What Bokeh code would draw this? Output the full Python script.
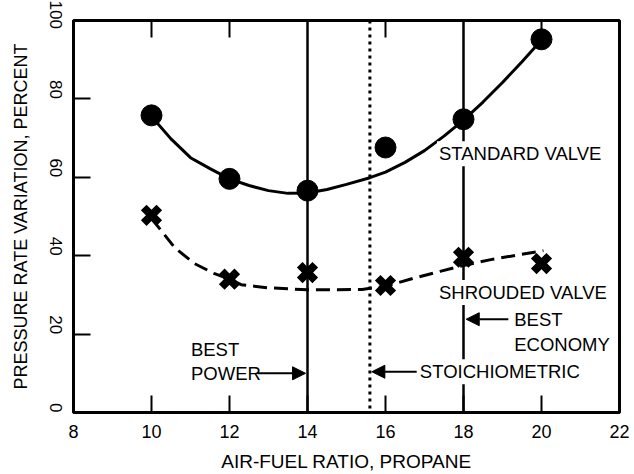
import math
from bokeh.plotting import figure
from bokeh.models import FixedTicker, Span, Label, Arrow, NormalHead, Range1d
from bokeh.embed import file_html
from bokeh.resources import INLINE

# ---- data ----
x_ticks = [8, 10, 12, 14, 16, 18, 20, 22]
y_ticks = [0, 20, 40, 60, 80, 100]
top_tick_marks = [10, 12, 16, 20]      # inward tick marks on the top edge

std_x = [10, 12, 14, 16, 18, 20]
std_y = [75.8, 59.6, 56.6, 67.6, 74.8, 95.2]

shr_x = [10, 12, 14, 16, 18, 20]
shr_y = [50.3, 34.0, 35.7, 32.4, 39.6, 38.0]

std_curve_x = [10, 10.5, 11, 11.5, 12, 12.5, 13, 13.5, 14, 14.5, 15, 15.6, 16, 16.5, 17, 17.5, 18, 18.5, 19, 19.5, 20]
std_curve_y = [75.5, 69.8, 65.0, 62.2, 59.6, 57.9, 56.6, 55.9, 56.0, 56.9, 58.2, 59.9, 61.3, 63.8, 66.8, 70.5, 74.6, 79.2, 84.2, 89.5, 95.0]

shr_curve_x = [10, 10.6, 11.1, 11.6, 12, 12.3, 13, 14, 14.7, 15.4, 16, 16.7, 17.4, 18, 18.7, 19.4, 20.05]
shr_curve_y = [49.5, 42.0, 38.0, 35.5, 34.0, 32.6, 31.8, 31.3, 31.3, 31.4, 32.2, 34.2, 36.0, 37.5, 39.0, 40.2, 41.3]

best_power_x = 14
best_economy_x = 18
stoich_x = 15.6

FONT = "Liberation Sans"
X0, X1, Y0, Y1 = 8, 22, 0, 100
FW, FH = 546, 392
TICK_PX = 17

p = figure(frame_width=FW, frame_height=FH,
           min_border_left=73, min_border_right=15, min_border_top=20, min_border_bottom=62,
           x_range=Range1d(X0, X1), y_range=Range1d(Y0, Y1),
           output_backend="svg", toolbar_location=None)
p.outline_line_color = "black"
p.outline_line_width = 3
p.xgrid.visible = False
p.ygrid.visible = False

# bottom axis
xa = p.xaxis[0]
xa.ticker = FixedTicker(ticks=x_ticks)
xa.major_tick_in = TICK_PX
xa.major_tick_out = 0
xa.major_tick_line_color = "black"
xa.major_tick_line_width = 2
xa.minor_tick_line_color = None
xa.axis_line_width = 3
xa.major_label_text_font = FONT
xa.major_label_text_font_size = "18px"
xa.major_label_text_color = "black"
xa.major_label_standoff = 12
xa.axis_label = "AIR-FUEL RATIO, PROPANE"
xa.axis_label_text_font = FONT
xa.axis_label_text_font_size = "19px"
xa.axis_label_text_font_style = "normal"
xa.axis_label_text_color = "black"
xa.axis_label_standoff = 10

# left axis
ya = p.yaxis[0]
ya.ticker = FixedTicker(ticks=y_ticks)
ya.major_tick_in = TICK_PX
ya.major_tick_out = 0
ya.major_tick_line_color = "black"
ya.major_tick_line_width = 2
ya.minor_tick_line_color = None
ya.axis_line_width = 3
ya.major_label_text_font = FONT
ya.major_label_text_font_size = "17px"
ya.major_label_text_color = "black"
ya.major_label_orientation = -math.pi / 2
ya.major_label_standoff = 18
ya.axis_label = "PRESSURE RATE VARIATION, PERCENT"
ya.axis_label_text_font = FONT
ya.axis_label_text_font_size = "18px"
ya.axis_label_text_font_style = "normal"
ya.axis_label_text_color = "black"
ya.axis_label_standoff = 10

# inward tick marks on the top edge
ty = TICK_PX * (Y1 - Y0) / FH
n = len(top_tick_marks)
p.segment(x0=top_tick_marks, y0=[Y1] * n, x1=top_tick_marks, y1=[Y1 - ty] * n,
          line_color="black", line_width=2)

# reference vertical lines
for xv in (best_power_x, best_economy_x):
    p.add_layout(Span(location=xv, dimension="height", line_color="black", line_width=2.5))
p.add_layout(Span(location=stoich_x, dimension="height", line_color="black",
                  line_width=3, line_dash="3 4"))

# curves
p.line(std_curve_x, std_curve_y, line_color="black", line_width=3)
p.line(shr_curve_x, shr_curve_y, line_color="black", line_width=3, line_dash="14 7")

# points
p.scatter(std_x, std_y, marker="circle", size=21, fill_color="black", line_color="black")
p.scatter(shr_x, shr_y, marker="x", size=22, line_color="black", line_width=8)

def lab(txt, x, y):
    p.add_layout(Label(x=x, y=y, text=txt, text_font=FONT, text_font_size="18.5px",
                       text_color="black", text_baseline="middle", text_align="left",
                       background_fill_color="white", padding=2))

lab("STANDARD VALVE", 17.32, 66.0)
lab("SHROUDED VALVE", 17.32, 30.6)
lab("BEST", 19.25, 23.6)
lab("ECONOMY", 19.25, 17.3)
lab("STOICHIOMETRIC", 16.83, 10.4)
lab("BEST", 10.96, 16.0)
lab("POWER", 10.96, 10.0)

def arrow(x0, x1, y):
    p.add_layout(Arrow(end=NormalHead(size=13, fill_color="black", line_color="black"),
                       x_start=x0, y_start=y, x_end=x1, y_end=y,
                       line_color="black", line_width=2))

arrow(12.72, best_power_x - 0.05, 10.0)
arrow(19.15, best_economy_x + 0.07, 23.8)
arrow(16.8, stoich_x + 0.05, 10.4)

open("out.html", "w").write(file_html(p, INLINE))
